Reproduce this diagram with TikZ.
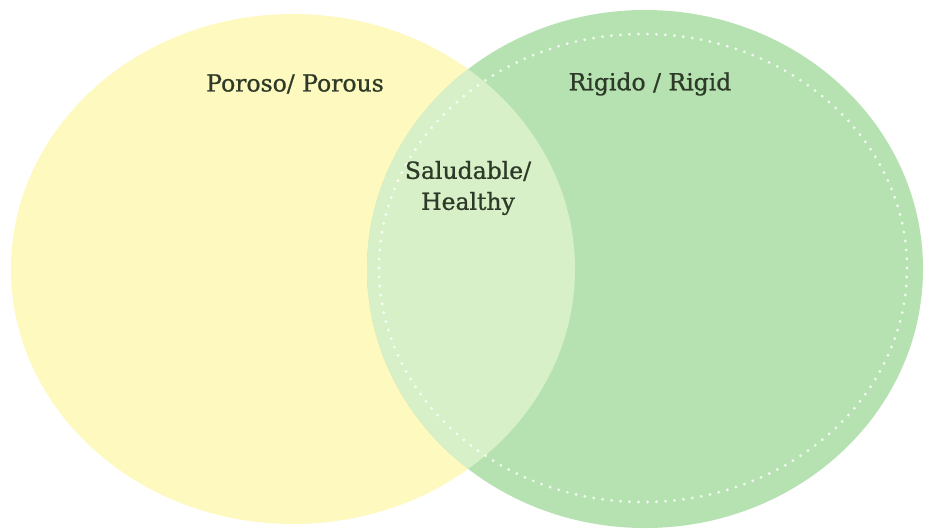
\documentclass[tikz,border=0pt]{standalone}
\usepackage{fontspec}
\setmainfont{DejaVu Serif}
\newfontfamily\venfont{DejaVu Serif}[FakeBold=0.9]
\definecolor{venyellow}{HTML}{FEF9BF}
\definecolor{vengreen}{HTML}{B5E2B0}
\definecolor{venmix}{HTML}{D8F0C8}
\definecolor{ventext}{HTML}{2E3A28}
\tikzset{
  lbl/.style={text=ventext, font=\venfont\fontsize{23.5}{31}\selectfont, align=center, inner sep=0pt},
  dots/.style={draw=white, draw opacity=0.8, line width=3.2pt, line cap=round, dash pattern=on 0pt off 9pt}
}
\begin{document}
\begin{tikzpicture}[x=1pt,y=-1pt]
\useasboundingbox[fill=white] (0,0) rectangle (925,531);
% yellow set
\fill[venyellow] (293,269) ellipse [x radius=282, y radius=255];
% green set
\fill[vengreen] (645,269) ellipse [x radius=278, y radius=259];
% intersection
\begin{scope}
  \clip (293,269) ellipse [x radius=282, y radius=255];
  \fill[venmix] (645,269) ellipse [x radius=278, y radius=259];
\end{scope}
% dotted inner ring
\draw[dots] (643,268) ellipse [x radius=264, y radius=234];
% labels
\node[lbl] (porous) at (295,84) {Poroso/ Porous};
\node[lbl] (rigid) at (650,84) {Rigido / Rigid};
\node[lbl] (healthy) at (468,188) {Saludable/\\Healthy};
\end{tikzpicture}
\end{document}
